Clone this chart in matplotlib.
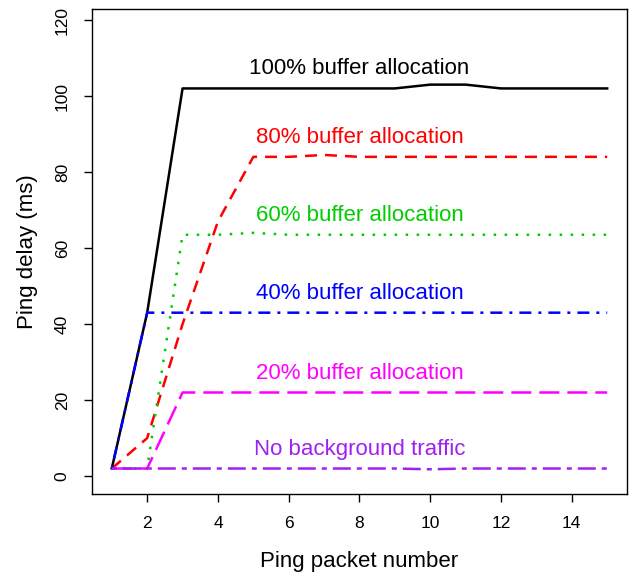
import numpy as np
import matplotlib
matplotlib.use("Agg")
import matplotlib.pyplot as plt

plt.rcParams["font.family"] = ["Liberation Sans", "DejaVu Sans"]

# Data
packets = list(range(1, 16))
buf100 = [2, 43, 102, 102, 102, 102, 102, 102, 102, 103, 103, 102, 102, 102, 102]
buf80 = [2, 10, 40, 67, 84, 84, 84.5, 84, 84, 84, 84, 84, 84, 84, 84]
buf60 = [2, 2, 63.5, 63.5, 64, 63.5, 63.5, 63.5, 63.5, 63.5, 63.5, 63.5, 63.5, 63.5, 63.5]
buf40 = [2, 43, 43, 43, 43, 43, 43, 43, 43, 43, 43, 43, 43, 43, 43]
buf20 = [2, 2, 22, 22, 22, 22, 22, 22, 22, 22, 22, 22, 22, 22, 22]
no_bg = [2, 2, 2, 2, 2, 2, 2, 2, 2, 1.8, 2, 2, 2, 2, 2]

labels = ["100% buffer allocation", "80% buffer allocation", "60% buffer allocation",
          "40% buffer allocation", "20% buffer allocation", "No background traffic"]
series = [buf100, buf80, buf60, buf40, buf20, no_bg]
colors = ["black", "#FF0000", "#00CD00", "#0000FF", "#FF00FF", "#A020F0"]
# dash patterns in units of line width (R lty 1..6 look)
dashes = [None, (4.8, 3.2), (1, 3.4), (1.2, 2.8, 4.8, 2.8), (8, 3.2), (2, 2.4, 7.2, 2.4)]

fig = plt.figure(figsize=(6.33, 5.8), dpi=100)
ax = fig.add_axes([0.1453, 0.1483, 0.8452, 0.8362])

for ys, c, d in zip(series, colors, dashes):
    line, = ax.plot(packets, ys, color=c, lw=1.8)
    if d is not None:
        line.set_dashes(d)

for ys, c, lab in zip(series, colors, labels):
    ax.annotate(lab, xy=(8, ys[-1]), xytext=(0, 14), textcoords="offset points",
                ha="center", va="center", color=c, fontsize=16)

ax.set_xlim(0.44, 15.56)
ax.set_ylim(-4.7, 122.9)
ax.set_xticks(range(2, 15, 2))
ax.set_yticks(range(0, 121, 20))
ax.set_yticklabels([str(v) for v in range(0, 121, 20)], rotation=90, va="center")
ax.tick_params(direction="out", length=6, width=1, labelsize=12.5, pad=10)
for s in ax.spines.values():
    s.set_linewidth(1)
ax.set_xlabel("Ping packet number", fontsize=16, labelpad=14)
ax.set_ylabel("Ping delay (ms)", fontsize=16, labelpad=12)

fig.savefig("out.png", dpi=100)
